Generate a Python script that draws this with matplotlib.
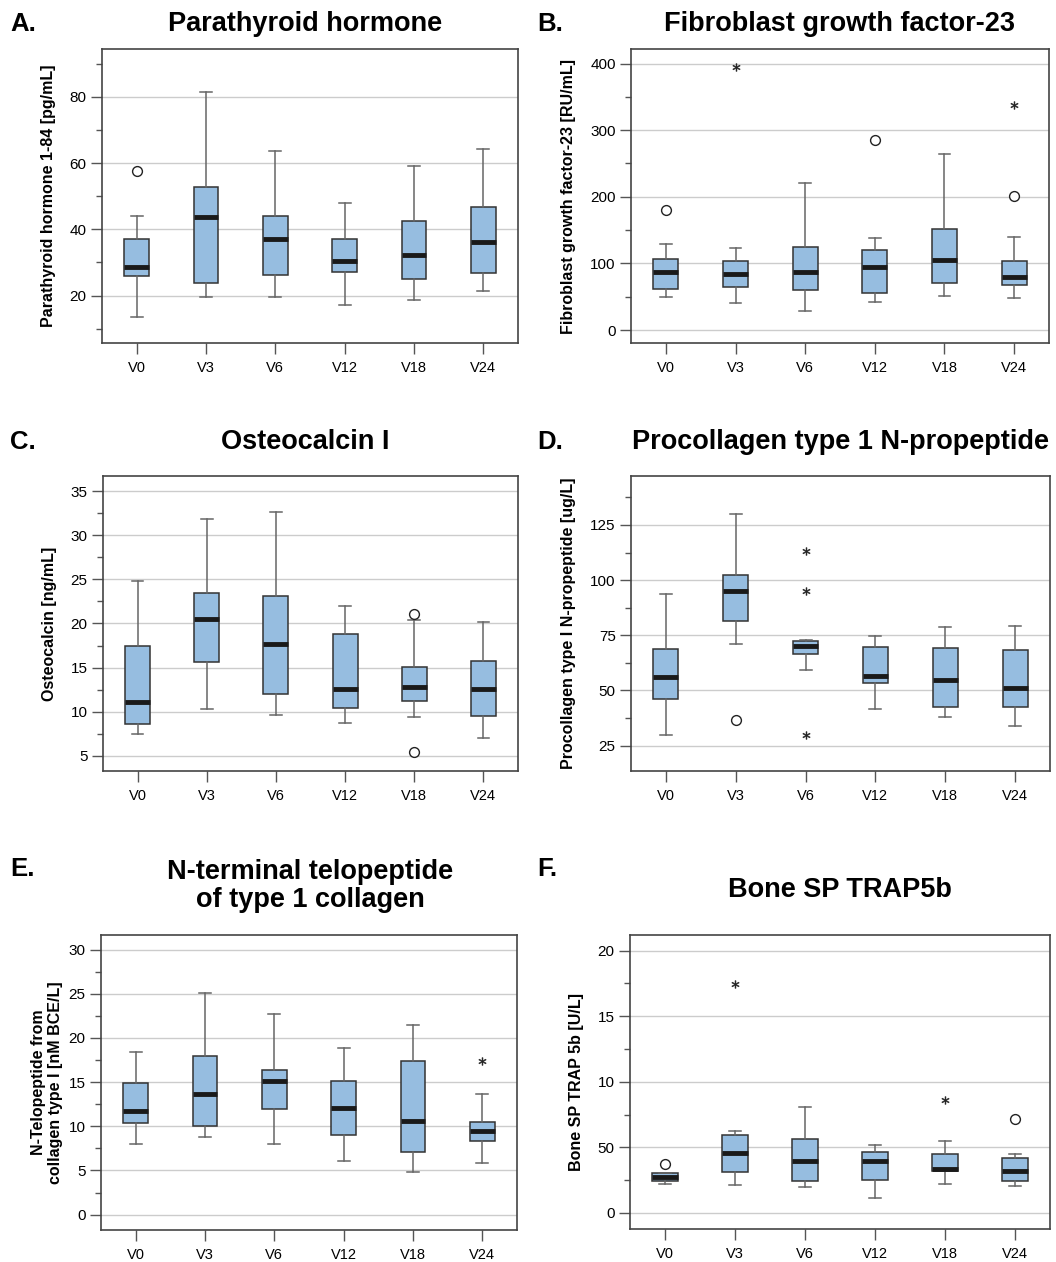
"""
Box plots of bone turnover markers per visit (V0 - V24), six panels A-F.
Box statistics are read off the published figure.
"""
import matplotlib
matplotlib.use("Agg")
import matplotlib.pyplot as plt
from matplotlib.ticker import MultipleLocator

plt.rcParams['font.family'] = ['Liberation Sans', 'DejaVu Sans']

visits = ["V0", "V3", "V6", "V12", "V18", "V24"]

# panel A: parathyroid hormone 1-84 [pg/mL]
pth_low = [13.4, 19.5, 19.7, 17.1, 18.7, 21.5]
pth_q1 = [25.8, 23.9, 26.2, 27.0, 25.0, 26.9]
pth_med = [28.7, 43.7, 37.2, 30.3, 32.1, 36.3]
pth_q3 = [37.0, 52.7, 44.1, 37.1, 42.6, 46.6]
pth_high = [43.9, 81.5, 63.5, 47.8, 59.0, 64.1]
pth_circles = [(0, 57.6)]
pth_stars = []

# panel B: fibroblast growth factor-23 [RU/mL]
fgf_low = [48.9, 40.9, 28.0, 42.4, 50.4, 47.4]
fgf_q1 = [61.4, 64.4, 59.9, 54.9, 70.4, 67.9]
fgf_med = [86.4, 83.4, 87.4, 93.9, 105.8, 78.9]
fgf_q3 = [106.3, 104.3, 125.3, 120.3, 151.3, 104.3]
fgf_high = [128.8, 122.8, 221.2, 138.8, 263.6, 139.8]
fgf_circles = [(0, 180.7), (3, 285.6), (5, 201.2)]
fgf_stars = [(1, 394.9), (5, 338.0)]

# panel C: osteocalcin [ng/mL]
oc_low = [7.45, 10.28, 9.68, 8.74, 9.45, 7.04]
oc_q1 = [8.62, 15.68, 11.98, 10.47, 11.26, 9.49]
oc_med = [11.08, 20.47, 17.68, 12.58, 12.77, 12.58]
oc_q3 = [17.45, 23.49, 23.15, 18.85, 15.08, 15.75]
oc_high = [24.85, 31.83, 32.62, 22.02, 20.40, 20.21]
oc_circles = [(4, 21.08), (4, 5.42)]
oc_stars = []

# panel D: procollagen type I N-propeptide [ug/L]
p1np_low = [29.7, 70.9, 59.3, 41.5, 37.8, 33.8]
p1np_q1 = [46.0, 81.6, 66.4, 53.2, 42.4, 42.4]
p1np_med = [56.3, 95.2, 70.3, 56.7, 54.9, 51.3]
p1np_q3 = [68.7, 102.2, 72.3, 69.9, 69.4, 68.4]
p1np_high = [93.9, 130.0, 72.8, 74.5, 78.8, 79.1]
p1np_circles = [(1, 36.8)]
p1np_stars = [(2, 113.1), (2, 95.2), (2, 29.7)]

# panel E: N-telopeptide from collagen type I [nM BCE/L]
ntx_low = [8.0, 8.75, 7.96, 6.11, 4.79, 5.89]
ntx_q1 = [10.38, 10.0, 11.92, 9.02, 7.09, 8.34]
ntx_med = [11.77, 13.70, 15.17, 12.11, 10.6, 9.47]
ntx_q3 = [14.91, 17.96, 16.34, 15.13, 17.43, 10.53]
ntx_high = [18.42, 25.09, 22.72, 18.9, 21.5, 13.7]
ntx_circles = []
ntx_stars = [(5, 17.43)]

# panel F: bone SP TRAP 5b [U/L]
trap_low = [2.23, 2.10, 1.98, 1.12, 2.18, 2.08]
trap_q1 = [2.43, 3.14, 2.43, 2.48, 3.19, 2.41]
trap_med = [2.74, 4.54, 4.0, 4.0, 3.32, 3.22]
trap_q3 = [3.02, 5.98, 5.65, 4.66, 4.46, 4.18]
trap_high = [3.06, 6.26, 8.08, 5.22, 5.45, 4.49]
trap_circles = [(0, 3.75), (5, 7.17)]
trap_stars = [(1, 17.44), (4, 8.62)]

box_color = "#96bde0"
edge_color = "#333333"
whisker_color = "#666666"
W, H = 1056, 1262


def draw_panel(rect, low, q1, med, q3, high, circles, stars, ylim, major, ylabel,
               yticklabels=None, labelpad=10):
    left, top, right, bottom = rect
    ax = fig.add_axes([left / W, 1 - bottom / H, (right - left) / W, (bottom - top) / H])
    stats = []
    for i in range(len(visits)):
        stats.append(dict(whislo=low[i], q1=q1[i], med=med[i], q3=q3[i],
                          whishi=high[i], fliers=[], label=visits[i]))
    ax.bxp(stats, positions=range(1, len(visits) + 1), widths=0.36, patch_artist=True,
           showfliers=False,
           boxprops=dict(facecolor=box_color, edgecolor=edge_color, linewidth=1.1),
           medianprops=dict(color="#1a1a1a", linewidth=3.5, solid_capstyle="butt"),
           whiskerprops=dict(color=whisker_color, linewidth=1.1),
           capprops=dict(color=whisker_color, linewidth=1.1), capwidths=0.17,
           zorder=3)
    if circles:
        ax.scatter([c[0] + 1 for c in circles], [c[1] for c in circles], s=50,
                   facecolors="white", edgecolors="#222222", linewidths=1.0, zorder=4)
    if stars:
        ax.scatter([s[0] + 1 for s in stars], [s[1] for s in stars], s=30,
                   marker="$*$", color="#222222", linewidths=0.4, zorder=4)
    ax.set_xlim(0.5, len(visits) + 0.5)
    ax.set_ylim(*ylim)
    ax.yaxis.set_major_locator(MultipleLocator(major))
    ax.yaxis.set_minor_locator(MultipleLocator(major / 2))
    if yticklabels is not None:
        ticks = [t for t in ax.get_yticks() if ylim[0] <= t <= ylim[1]]
        ax.set_yticks(ticks)
        ax.set_yticklabels(yticklabels)
    ax.grid(axis="y", which="major", color="#cccccc", linewidth=1.0, zorder=0)
    ax.set_axisbelow(True)
    ax.tick_params(axis="y", which="major", length=8, width=1.0, color="#555555",
                   labelsize=11, pad=3)
    ax.tick_params(axis="y", which="minor", length=4, width=1.0, color="#555555")
    ax.tick_params(axis="x", length=8, width=1.0, color="#555555", labelsize=10.5, pad=5)
    for sp in ax.spines.values():
        sp.set_color("#444444")
        sp.set_linewidth(1.2)
    ax.set_ylabel(ylabel, fontsize=11.5, fontweight="bold", labelpad=labelpad)
    return ax


fig = plt.figure(figsize=(W / 100, H / 100), dpi=100)

draw_panel((102, 49, 518, 343), pth_low, pth_q1, pth_med, pth_q3, pth_high,
           pth_circles, pth_stars, (5.7, 94.4), 20, "Parathyroid hormone 1-84 [pg/mL]")
draw_panel((631, 49, 1049, 343), fgf_low, fgf_q1, fgf_med, fgf_q3, fgf_high,
           fgf_circles, fgf_stars, (-19.5, 421.9), 100, "Fibroblast growth factor-23 [RU/mL]")
draw_panel((103, 476, 518, 771), oc_low, oc_q1, oc_med, oc_q3, oc_high,
           oc_circles, oc_stars, (3.3, 36.7), 5, "Osteocalcin [ng/mL]")
draw_panel((631, 476, 1050, 771), p1np_low, p1np_q1, p1np_med, p1np_q3, p1np_high,
           p1np_circles, p1np_stars, (13.5, 147.2), 25, "Procollagen type I N-propeptide [ug/L]")
draw_panel((101, 935, 517, 1230), ntx_low, ntx_q1, ntx_med, ntx_q3, ntx_high,
           ntx_circles, ntx_stars, (-1.74, 31.66), 5,
           "N-Telopeptide from\ncollagen type I [nM BCE/L]", labelpad=4)
draw_panel((630, 935, 1050, 1229), trap_low, trap_q1, trap_med, trap_q3, trap_high,
           trap_circles, trap_stars, (-1.22, 21.19), 5, "Bone SP TRAP 5b [U/L]",
           yticklabels=["0", "50", "10", "15", "20"])

# titles and panel letters
title_kw = dict(fontsize=19.5, fontweight="bold", ha="center", va="center")
letter_kw = dict(fontsize=18.5, fontweight="bold", ha="left", va="center")
fig.text(305 / W, 1 - 24 / H, "Parathyroid hormone", **title_kw)
fig.text(840 / W, 1 - 24 / H, "Fibroblast growth factor-23", **title_kw)
fig.text(305 / W, 1 - 442 / H, "Osteocalcin I", **title_kw)
fig.text(840 / W, 1 - 442 / H, "Procollagen type 1 N-propeptide", **title_kw)
fig.text(310 / W, 1 - 886 / H, "N-terminal telopeptide\nof type 1 collagen",
         linespacing=1.1, **title_kw)
fig.text(840 / W, 1 - 890 / H, "Bone SP TRAP5b", **title_kw)

fig.text(10 / W, 1 - 24 / H, "A.", **letter_kw)
fig.text(537 / W, 1 - 24 / H, "B.", **letter_kw)
fig.text(10 / W, 1 - 442 / H, "C.", **letter_kw)
fig.text(537 / W, 1 - 442 / H, "D.", **letter_kw)
fig.text(10 / W, 1 - 869 / H, "E.", **letter_kw)
fig.text(537 / W, 1 - 869 / H, "F.", **letter_kw)

fig.savefig("out.png", dpi=100)
